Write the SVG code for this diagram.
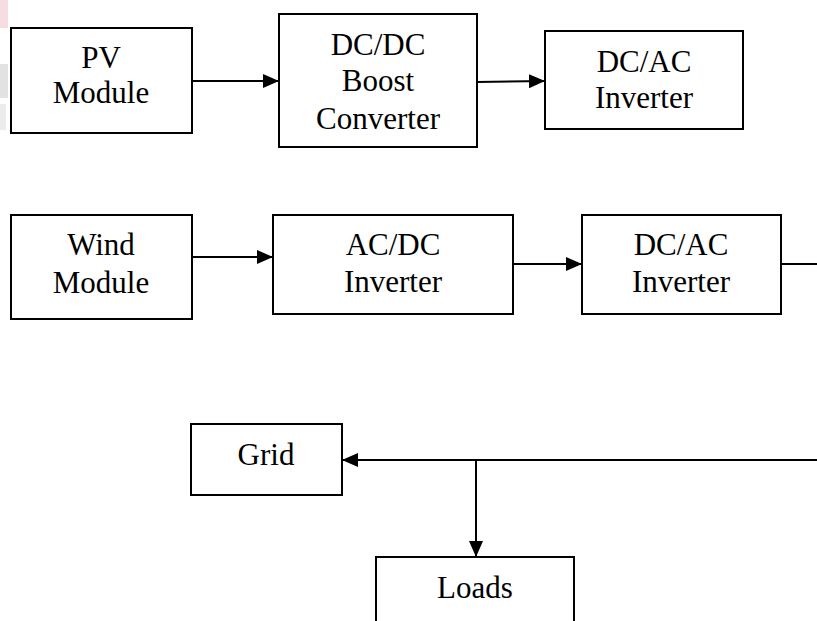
<svg xmlns="http://www.w3.org/2000/svg" width="817" height="621" viewBox="0 0 817 621">
<style>
.box{fill:#fff;stroke:#000;stroke-width:2}
.lbl{font-family:'Liberation Serif','Times New Roman',Times,'Nimbus Roman','DejaVu Serif',serif;font-size:31px;fill:#000;text-anchor:middle}
.wire{fill:none;stroke:#000;stroke-width:2}
</style>
<defs>
<marker id="ah" markerWidth="16" markerHeight="14" refX="16" refY="7" orient="auto" markerUnits="userSpaceOnUse">
<path d="M0,0 L16,7 L0,14 Z" fill="#000"/>
</marker>
</defs>
<rect width="817" height="621" fill="#fff"/>
<g id="smudges">
<rect x="0" y="0" width="8" height="28" fill="#f6dde2"/>
<rect x="0" y="64" width="8" height="34" fill="#e2e2e2"/>
<rect x="0" y="104" width="6" height="26" fill="#ececec"/>
</g>
<g id="pv"><rect class="box" x="11" y="28" width="181" height="105"/><text class="lbl" x="101" y="68">PV</text><text class="lbl" x="101" y="103">Module</text></g>
<g id="dcdc"><rect class="box" x="279" y="14" width="198" height="133"/><text class="lbl" x="378" y="55">DC/DC</text><text class="lbl" x="378" y="91">Boost</text><text class="lbl" x="378" y="129">Converter</text></g>
<g id="dcac1"><rect class="box" x="545" y="31" width="198" height="98"/><text class="lbl" x="644" y="72">DC/AC</text><text class="lbl" x="644" y="108">Inverter</text></g>
<g id="wind"><rect class="box" x="11" y="215" width="181" height="104"/><text class="lbl" x="101" y="255">Wind</text><text class="lbl" x="101" y="293">Module</text></g>
<g id="acdc"><rect class="box" x="273" y="215" width="240" height="99"/><text class="lbl" x="393" y="255">AC/DC</text><text class="lbl" x="393" y="292">Inverter</text></g>
<g id="dcac2"><rect class="box" x="582" y="215" width="199" height="99"/><text class="lbl" x="681" y="255">DC/AC</text><text class="lbl" x="681" y="292">Inverter</text></g>
<g id="grid"><rect class="box" x="191" y="424" width="151" height="71"/><text class="lbl" x="266" y="465">Grid</text></g>
<g id="loads"><rect class="box" x="376" y="557" width="198" height="80"/><text class="lbl" x="475" y="598">Loads</text></g>
<g id="connectors">
<line class="wire" x1="192" y1="81" x2="279" y2="81" marker-end="url(#ah)"/>
<line class="wire" x1="477" y1="82" x2="545" y2="81" marker-end="url(#ah)"/>
<line class="wire" x1="192" y1="257" x2="273" y2="257" marker-end="url(#ah)"/>
<line class="wire" x1="513" y1="264" x2="582" y2="264" marker-end="url(#ah)"/>
<line class="wire" x1="781" y1="264" x2="817" y2="264"/>
<line class="wire" x1="817" y1="460" x2="342" y2="460" marker-end="url(#ah)"/>
<line class="wire" x1="476" y1="460" x2="476" y2="557" marker-end="url(#ah)"/>
</g>
</svg>
